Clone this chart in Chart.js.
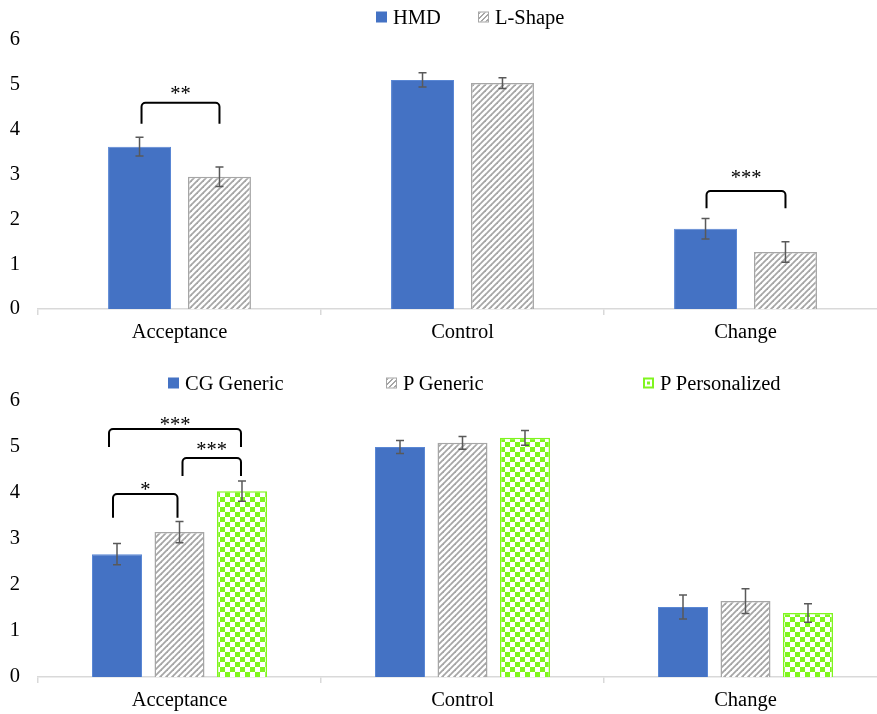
<!DOCTYPE html>
<html>
<head>
<meta charset="utf-8">
<script src="https://cdn.jsdelivr.net/npm/chart.js@4.4.1/dist/chart.umd.min.js"></script>
<style>
  html,body{margin:0;padding:0;background:#fff;overflow:hidden;}
  .panel{position:relative;width:887px;height:357px;}
  .panel canvas{position:absolute;left:0;top:0;}
  .legend{position:absolute;left:0;top:0;width:100%;height:0;font:20.5px "Liberation Serif","Times New Roman",serif;color:#000;}
  .item{position:absolute;display:flex;align-items:center;white-space:nowrap;transform:translateY(-50%);}
  .sw{width:11px;height:11px;box-sizing:border-box;margin-right:6px;}
  .sw.blue{background:#4472c4;}
  .sw.hatch{border:1px solid #a6a6a6;background:repeating-linear-gradient(135deg,#a6a6a6 0 1.5px,#fff 1.5px 3.5px);}
  .sw.check{border:2px solid #80f51f;background:#fff;}
  .sw.check::after{content:"";display:block;width:3px;height:3px;margin:2px;background:#80f51f;}
</style>
</head>
<body>
<div class="panel" id="p1">
  <canvas id="chartTop"></canvas>
  <div class="legend">
    <div class="item" style="left:376px;top:17px"><span class="sw blue"></span>HMD</div>
    <div class="item" style="left:478px;top:17px"><span class="sw hatch"></span>L-Shape</div>
  </div>
</div>
<div class="panel" id="p2">
  <canvas id="chartBottom"></canvas>
  <div class="legend">
    <div class="item" style="left:168px;top:26px"><span class="sw blue"></span>CG Generic</div>
    <div class="item" style="left:386px;top:26px"><span class="sw hatch"></span>P Generic</div>
    <div class="item" style="left:643px;top:26px"><span class="sw check"></span>P Personalized</div>
  </div>
</div>
<script>
// ---- data ----
const categories = ['Acceptance','Control','Change'];
const yTicks = [0,1,2,3,4,5,6];

const hmdMeans    = [3.62, 5.11, 1.79];
const hmdErr      = [0.21, 0.16, 0.23];
const lshapeMeans = [2.95, 5.04, 1.27];
const lshapeErr   = [0.22, 0.12, 0.23];

const cgGenericMeans = [2.67, 5.00, 1.52];
const cgGenericErr   = [0.23, 0.14, 0.26];
const pGenericMeans  = [3.15, 5.09, 1.65];
const pGenericErr    = [0.23, 0.14, 0.27];
const pPersMeans     = [4.04, 5.20, 1.39];
const pPersErr       = [0.22, 0.16, 0.20];

// significance brackets: category, bar from/to (dataset index), top, leg end, label height, label
const topSigCat   = [0, 2];
const topSigFrom  = [0, 0];
const topSigTo    = [1, 1];
const topSigTop   = [4.60, 2.63];
const topSigLeg   = [4.13, 2.25];
const topSigText  = [4.86, 2.97];
const topSigLabel = ['**', '***'];

const botSigCat   = [0, 0, 0];
const botSigFrom  = [0, 1, 0];
const botSigTo    = [1, 2, 2];
const botSigTop   = [3.98, 4.76, 5.39];
const botSigLeg   = [3.46, 4.37, 5.00];
const botSigText  = [4.11, 4.98, 5.54];
const botSigLabel = ['*', '***', '***'];
// small pixel nudges for bracket legs so they don't collide
const botLegNudge = [[-4,-2],[3,-1],[-8,-1]];
const topLegNudge = [[2,0],[1,0]];

const FONT = '"Liberation Serif","Times New Roman",serif';
const BLUE = '#4472c4';
const GREEN = '#80f51f';
const GRAY = '#a6a6a6';

function hatchPattern(){
  const c = document.createElement('canvas'); c.width = 6; c.height = 6;
  const g = c.getContext('2d');
  g.fillStyle = '#fff'; g.fillRect(0,0,6,6);
  g.strokeStyle = GRAY; g.lineWidth = 1.8;
  [[-1,7,7,-1],[-1,1,1,-1],[5,7,7,5]].forEach(l=>{ g.beginPath(); g.moveTo(l[0],l[1]); g.lineTo(l[2],l[3]); g.stroke(); });
  return g.createPattern(c,'repeat');
}
function checkPattern(){
  const c = document.createElement('canvas'); c.width = 10; c.height = 10;
  const g = c.getContext('2d');
  g.fillStyle = '#fff'; g.fillRect(0,0,10,10);
  g.fillStyle = GREEN; g.fillRect(0,0,5,5); g.fillRect(5,5,5,5);
  return g.createPattern(c,'repeat');
}

const errorBars = {
  id:'errorBars',
  afterDatasetsDraw(chart){
    const ctx = chart.ctx, y = chart.scales.y;
    ctx.save();
    ctx.strokeStyle = '#595959'; ctx.lineWidth = 1.5;
    chart.data.datasets.forEach((ds,di)=>{
      const meta = chart.getDatasetMeta(di);
      meta.data.forEach((bar,i)=>{
        const v = ds.data[i], e = ds.err[i];
        const y1 = y.getPixelForValue(v+e), y2 = y.getPixelForValue(v-e);
        ctx.beginPath();
        ctx.moveTo(bar.x, y1); ctx.lineTo(bar.x, y2);
        ctx.moveTo(bar.x-4, y1); ctx.lineTo(bar.x+4, y1);
        ctx.moveTo(bar.x-4, y2); ctx.lineTo(bar.x+4, y2);
        ctx.stroke();
      });
    });
    ctx.restore();
  }
};

const sigBrackets = {
  id:'sigBrackets',
  afterDatasetsDraw(chart, args, opts){
    const ctx = chart.ctx, y = chart.scales.y, r = 4;
    ctx.save();
    ctx.strokeStyle = '#000'; ctx.lineWidth = 2;
    ctx.fillStyle = '#000'; ctx.font = '20.5px '+FONT;
    ctx.textAlign = 'center'; ctx.textBaseline = 'middle';
    opts.cat.forEach((c,k)=>{
      const nud = opts.nudge[k];
      const x1 = chart.getDatasetMeta(opts.from[k]).data[c].x + nud[0];
      const x2 = chart.getDatasetMeta(opts.to[k]).data[c].x + nud[1];
      const yt = y.getPixelForValue(opts.top[k]);
      const yl = y.getPixelForValue(opts.leg[k]);
      ctx.beginPath();
      ctx.moveTo(x1, yl);
      ctx.lineTo(x1, yt+r);
      ctx.arcTo(x1, yt, x1+r, yt, r);
      ctx.lineTo(x2-r, yt);
      ctx.arcTo(x2, yt, x2, yt+r, r);
      ctx.lineTo(x2, yl);
      ctx.stroke();
      ctx.fillText(opts.label[k], (x1+x2)/2, y.getPixelForValue(opts.text[k]) + 3);
    });
    ctx.restore();
  }
};

function makeChart(id, datasets, catPct, barPct, padTop, xHeight, sig){
  return new Chart(document.getElementById(id), {
    type:'bar',
    data:{ labels:categories, datasets },
    options:{
      responsive:true, maintainAspectRatio:false, animation:false,
      layout:{ padding:{ top:padTop, left:0, right:0, bottom:0 } },
      datasets:{ bar:{ categoryPercentage:catPct, barPercentage:barPct } },
      plugins:{ legend:{display:false}, tooltip:{enabled:false}, sigBrackets:sig },
      scales:{
        x:{
          grid:{ display:true, drawOnChartArea:false, drawTicks:true, tickLength:6, color:'#d9d9d9', lineWidth:1.5 },
          border:{ display:true, color:'#d9d9d9', width:1.5 },
          ticks:{ color:'#000', padding:5, font:{ family:FONT, size:20.5 } },
          afterFit(s){ s.height = xHeight; }
        },
        y:{
          min:0, max:6,
          afterBuildTicks(s){ s.ticks = yTicks.map(v=>({value:v})); },
          grid:{ display:false }, border:{ display:false },
          ticks:{ color:'#000', padding:10, font:{ family:FONT, size:20.5 } },
          afterFit(s){ s.width = 38; }
        }
      }
    },
    plugins:[errorBars, sigBrackets]
  });
}

const hatch = hatchPattern(), check = checkPattern();

makeChart('chartTop', [
  { label:'HMD', data:hmdMeans, err:hmdErr, backgroundColor:BLUE, borderColor:'#5a87d4', borderWidth:1 },
  { label:'L-Shape', data:lshapeMeans, err:lshapeErr, backgroundColor:hatch, borderColor:GRAY, borderWidth:1.5 }
], 0.565, 0.7875, 40, 48,
  { cat:topSigCat, from:topSigFrom, to:topSigTo, top:topSigTop, leg:topSigLeg, text:topSigText, label:topSigLabel, nudge:topLegNudge });

makeChart('chartBottom', [
  { label:'CG Generic', data:cgGenericMeans, err:cgGenericErr, backgroundColor:BLUE, borderColor:'#5a87d4', borderWidth:1 },
  { label:'P Generic', data:pGenericMeans, err:pGenericErr, backgroundColor:hatch, borderColor:GRAY, borderWidth:1.5 },
  { label:'P Personalized', data:pPersMeans, err:pPersErr, backgroundColor:check, borderColor:GREEN, borderWidth:1.5 }
], 0.6625, 0.8, 44, 37,
  { cat:botSigCat, from:botSigFrom, to:botSigTo, top:botSigTop, leg:botSigLeg, text:botSigText, label:botSigLabel, nudge:botLegNudge });
</script>
</body>
</html>
